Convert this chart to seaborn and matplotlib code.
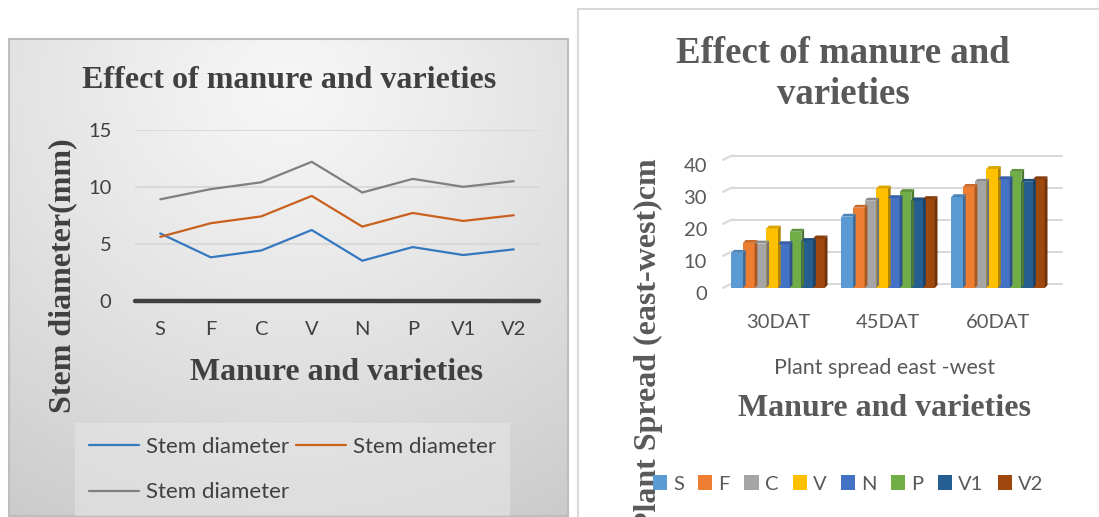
import numpy as np
import pandas as pd
import matplotlib.pyplot as plt
import matplotlib.colors as mcolors
import seaborn as sns
from matplotlib.patches import Rectangle, Polygon
from matplotlib.transforms import ScaledTranslation

sns.set_theme(style="white")
plt.rcParams['font.family'] = ['Lato', 'DejaVu Sans']
SERIF = 'Liberation Serif'

W, H = 1099, 517

# ── data: stem diameter (left) ─────────────────────────────
treatments = ['S', 'F', 'C', 'V', 'N', 'P', 'V1', 'V2']
stem_1 = [5.9, 3.8, 4.4, 6.2, 3.5, 4.7, 4.0, 4.5]
stem_2 = [5.6, 6.8, 7.4, 9.2, 6.5, 7.7, 7.0, 7.5]
stem_3 = [8.9, 9.8, 10.4, 12.2, 9.5, 10.7, 10.0, 10.5]
stem_ticks = [0, 5, 10, 15]

# ── data: plant spread (right) ─────────────────────────────
stages = ['30DAT', '45DAT', '60DAT']
spread_30 = [11.0, 14.1, 13.9, 18.6, 13.7, 17.6, 14.7, 15.5]
spread_45 = [22.3, 25.1, 27.3, 31.1, 28.1, 30.0, 27.4, 27.8]
spread_60 = [28.4, 31.6, 33.2, 37.2, 34.0, 36.3, 33.2, 34.0]
spread_ticks = [0, 10, 20, 30, 40]

LINE_COLORS = ['#3478c0', '#c8601e', '#7f7f7f']
BAR_COLORS = ['#5B9BD5', '#ED7D31', '#A5A5A5', '#FFC000',
              '#4472C4', '#70AD47', '#255E91', '#9E480E']


def fx(px):
    return px / W


def fy(py):
    return 1 - py / H


fig = plt.figure(figsize=(W / 100, H / 100), dpi=100)
fig.patch.set_facecolor('white')

# ── left panel background (soft radial gradient) ──────────
bg = fig.add_axes([fx(9), fy(516), fx(568) - fx(9), fy(39) - fy(516)])
yy, xx = np.mgrid[0:1:300j, 0:1:400j]
r = np.sqrt(((xx - 0.5) * 1.1) ** 2 + (yy - 0.1) ** 2)
r = np.clip(r / r.max(), 0, 1)
c0, c1 = np.array(mcolors.to_rgb('#f6f6f6')), np.array(mcolors.to_rgb('#cbcbcb'))
img = c0 + (c1 - c0) * r[..., None] ** 1.2
bg.imshow(img, aspect='auto', extent=[0, 1, 0, 1], origin='upper')
bg.set_xlim(0, 1)
bg.set_ylim(0, 1)
bg.axis('off')
bg.add_patch(Rectangle((0, 0), 1, 1, transform=bg.transAxes, fill=False,
                       edgecolor='#bdbdbd', lw=1.5, clip_on=False))

# right panel border
fig.patches.append(Rectangle((fx(578), fy(530)), fx(1120) - fx(578), fy(9) - fy(530),
                             transform=fig.transFigure, fill=False,
                             edgecolor='#d9d9d9', lw=1.5))

# ── 1. Stem diameter lines ─────────────────────────────────
ax1 = fig.add_axes([fx(135), fy(300.5), fx(539) - fx(135), fy(130) - fy(300.5)])
ax1.set_facecolor('none')
for vals, col in zip([stem_1, stem_2, stem_3], LINE_COLORS):
    sns.lineplot(x=treatments, y=vals, ax=ax1, color=col, lw=1.6,
                 sort=False, label='Stem diameter', legend=False)
lines = ax1.get_lines()
ax1.set_ylim(0, 15)
ax1.set_xlim(-0.5, len(treatments) - 0.5)
ax1.set_yticks(stem_ticks)
for v in stem_ticks[1:]:
    ax1.axhline(v, color='#d6d6d6', lw=1.2, zorder=0)
ax1.axhline(0, color='#404040', lw=3.2, clip_on=False, zorder=3)
for s in ax1.spines.values():
    s.set_visible(False)
ax1.tick_params(axis='y', length=0, pad=17, labelsize=14.5, labelcolor='#404040')
ax1.tick_params(axis='x', length=0, pad=15, labelsize=14.5, labelcolor='#404040')
ax1.set_xlabel('')
ax1.set_ylabel('')

fig.text(fx(289), fy(80), 'Effect of manure and varieties', ha='center', va='center',
         fontsize=23, fontweight='bold', family=SERIF, color='#404040')
fig.text(fx(337), fy(373), 'Manure and varieties', ha='center', va='center',
         fontsize=23, fontweight='bold', family=SERIF, color='#404040')
fig.text(fx(63), fy(276), 'Stem diameter(mm)', ha='center', va='center', rotation=90,
         fontsize=23, fontweight='bold', family=SERIF, color='#404040')

leg1 = fig.legend([lines[0], lines[2], lines[1]], ['Stem diameter'] * 3,
                  loc='upper left', bbox_to_anchor=(fx(75), fy(423)), ncol=2,
                  fontsize=16, handlelength=2.25, handletextpad=0.32,
                  columnspacing=0.3, labelspacing=1.15, borderpad=0.62,
                  borderaxespad=0, frameon=True, fancybox=False, framealpha=0.45,
                  facecolor='#ececec', edgecolor='none')
for t in leg1.get_texts():
    t.set_color('#404040')

# ── 2. Plant spread bars (3-D look) ────────────────────────
df = pd.DataFrame({
    'stage': np.repeat(stages, len(treatments)),
    'treatment': treatments * len(stages),
    'spread': spread_30 + spread_45 + spread_60,
})
ax2 = fig.add_axes([fx(723), fy(288), fx(1053) - fx(723), fy(160) - fy(288)])
ax2.set_facecolor('none')
sns.barplot(data=df, x='stage', y='spread', hue='treatment', hue_order=treatments,
            palette=BAR_COLORS, width=0.85, saturation=1, linewidth=0,
            ax=ax2, legend=False, zorder=2)
ax2.set_ylim(0, 40)
ax2.set_xlim(-0.5, len(stages) - 0.5)
ax2.set_yticks(spread_ticks)

DX, DY = 0.025, 0.9
WALL_X, WALL_Y = 0.08, 1.4
for v in spread_ticks:
    ax2.plot([-0.5, -0.5 + WALL_X], [v, v + WALL_Y], color='#d9d9d9', lw=1.5,
             clip_on=False, zorder=0)
    ax2.plot([-0.5 + WALL_X, len(stages) - 0.5 + WALL_X], [v + WALL_Y] * 2,
             color='#d9d9d9', lw=1.5, clip_on=False, zorder=0)

for p in list(ax2.patches):
    h, w, x0 = p.get_height(), p.get_width(), p.get_x()
    if h <= 0 or w <= 0:
        continue
    base = np.array(mcolors.to_rgb(p.get_facecolor()))
    side = Polygon([(x0 + w, 0), (x0 + w + DX, DY), (x0 + w + DX, h + DY), (x0 + w, h)],
                   closed=True, facecolor=base * 0.7, edgecolor='none', zorder=3,
                   clip_on=False)
    top = Polygon([(x0, h), (x0 + DX, h + DY), (x0 + w + DX, h + DY), (x0 + w, h)],
                  closed=True, facecolor=base * 0.85, edgecolor='none', zorder=3,
                  clip_on=False)
    ax2.add_patch(side)
    ax2.add_patch(top)

for s in ax2.spines.values():
    s.set_visible(False)
ax2.tick_params(axis='y', length=0, pad=11.5, labelsize=14.5, labelcolor='#595959')
ax2.tick_params(axis='x', length=0, pad=19, labelsize=14.5, labelcolor='#595959')
shift = ScaledTranslation(0, -4.5 / 100, fig.dpi_scale_trans)
for lbl in ax2.get_yticklabels():
    lbl.set_transform(lbl.get_transform() + shift)
ax2.set_xlabel('')
ax2.set_ylabel('')

fig.text(fx(843), fy(74), 'Effect of manure and\nvarieties', ha='center', va='center',
         fontsize=26.5, fontweight='bold', family=SERIF, color='#595959',
         linespacing=1.25)
fig.text(fx(884), fy(368), 'Plant spread east -west', ha='center', va='center',
         fontsize=15.5, color='#595959')
fig.text(fx(884), fy(408), 'Manure and varieties', ha='center', va='center',
         fontsize=23, fontweight='bold', family=SERIF, color='#595959')
# the reference chart lets this label run past the bottom edge
fig.text(fx(648), fy(158), 'Plant Spread (east-west)cm', ha='center', va='top',
         rotation=90, fontsize=23, fontweight='bold', family=SERIF, color='#595959')

handles = [Rectangle((0, 0), 1, 1, facecolor=c, edgecolor='none') for c in BAR_COLORS]
leg2 = fig.legend(handles, treatments, loc='center', bbox_to_anchor=(fx(848), fy(484)),
                  ncol=len(treatments), frameon=False, fontsize=14.5,
                  handlelength=0.7, handleheight=0.7, handletextpad=0.3,
                  columnspacing=0.72)
for t in leg2.get_texts():
    t.set_color('#595959')

fig.savefig('out.png', dpi=100)
